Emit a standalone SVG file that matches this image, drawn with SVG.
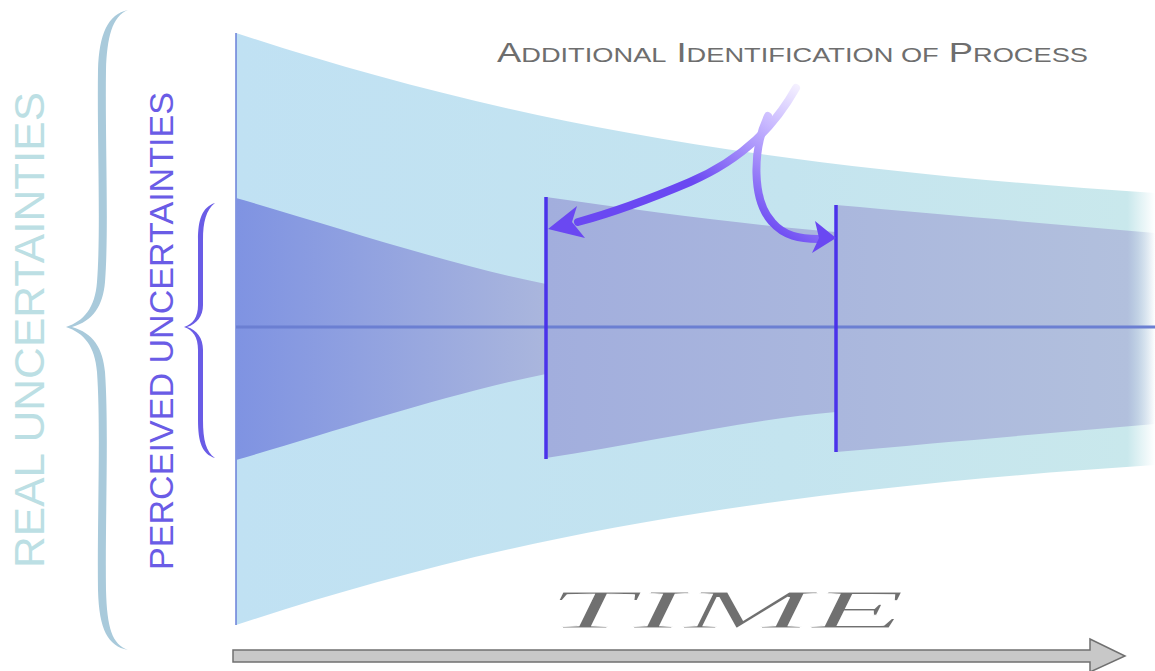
<svg xmlns="http://www.w3.org/2000/svg" width="1155" height="671" viewBox="0 0 1155 671">
<defs>
<linearGradient id="gFunnel" gradientUnits="userSpaceOnUse" x1="236" y1="0" x2="1155" y2="0">
<stop offset="0" stop-color="#c0e1f3"/>
<stop offset="0.6" stop-color="#c4e4ef"/>
<stop offset="0.97" stop-color="#c9e8ec"/>
<stop offset="1" stop-color="#c9e8ec" stop-opacity="0"/>
</linearGradient>
<linearGradient id="gPerc" gradientUnits="userSpaceOnUse" x1="236" y1="0" x2="1155" y2="0">
<stop offset="0" stop-color="#7f93e2"/>
<stop offset="0.337" stop-color="#aab6dd"/>
<stop offset="0.34" stop-color="#a2aedd"/>
<stop offset="0.97" stop-color="#b2c0dd"/>
<stop offset="1" stop-color="#b2c0dd" stop-opacity="0"/>
</linearGradient>
<linearGradient id="gArrow" gradientUnits="userSpaceOnUse" x1="798" y1="86" x2="720" y2="200">
<stop offset="0" stop-color="#f4f0ff"/>
<stop offset="0.35" stop-color="#c8b8ff"/>
<stop offset="1" stop-color="#6a48f2"/>
</linearGradient>
<style>
.vbar{stroke:#4a32ea;stroke-width:3.5;fill:none}
.cline{stroke:#6b7fd2;stroke-width:3;fill:none}
.arr{fill:none;stroke:url(#gArrow);stroke-width:8;stroke-linecap:round}
.head{fill:#6a48f2}
.lbl{font-family:"Liberation Sans",Arial,sans-serif}
</style>
</defs>
<rect width="1155" height="671" fill="#ffffff"/>

<g id="real-funnel">
<path d="M236,33 C470,110 720,165 1155,193 L1155,465 C720,493 470,548 236,625 Z" fill="url(#gFunnel)"/>
<line x1="236" y1="33" x2="236" y2="625" stroke="#6a7fd8" stroke-width="1.5"/>
</g>

<g id="perceived-1">
<path d="M236,198 C330,225 450,265 546,284 L546,374 C450,393 330,433 236,460 Z" fill="url(#gPerc)"/>
</g>
<g id="perceived-2">
<path d="M546,197 C650,212 750,225 836,232 L836,412 C750,419 650,442 546,458 Z" fill="url(#gPerc)"/>
</g>
<g id="perceived-3">
<path d="M836,205 C950,215 1050,224 1155,233 L1155,424 C1050,433 950,442 836,452 Z" fill="url(#gPerc)"/>
</g>

<g id="center-line">
<line class="cline" x1="236" y1="327" x2="1155" y2="327"/>
</g>

<g id="bar-1"><line class="vbar" x1="546" y1="197" x2="546" y2="459"/></g>
<g id="bar-2"><line class="vbar" x1="836" y1="205" x2="836" y2="452"/></g>

<g id="title">
<text class="lbl" x="497" y="62" fill="#6e6e6e" font-size="28" textLength="591" lengthAdjust="spacingAndGlyphs">A<tspan font-size="21">DDITIONAL</tspan> I<tspan font-size="21">DENTIFICATION OF</tspan> P<tspan font-size="21">ROCESS</tspan></text>
</g>

<g id="connectors">
<path class="arr" d="M796,88 C775,125 745,158 690,182 C650,199 615,212 578,222"/>
<path class="arr" d="M768,116 C752,150 752,200 772,222 C784,236 800,239 818,239"/>
<polygon class="head" points="548,229 577,206 572,222 585,238"/>
<polygon class="head" points="836,238 815,221 819,238 812,253"/>
</g>

<g id="real-label">
<text class="lbl" transform="translate(44,330) rotate(-90)" text-anchor="middle" font-size="42" font-weight="300" fill="#bcdfe4" textLength="476" lengthAdjust="spacingAndGlyphs">REAL UNCERTAINTIES</text>
<path d="M128,10 C108,14 99,34 98,70 C97,140 101,230 97,282 C95,308 84,321 66,327 C84,333 95,346 97,372 C101,430 97,520 98,590 C99,630 108,646 128,650 C112,644 107,628 106,590 C105,520 109,430 105,372 C103,348 93,333 72,327 C93,321 103,306 105,282 C109,230 105,140 106,70 C107,38 112,16 128,10 Z" fill="#a9cadb"/>
</g>

<g id="perceived-label">
<text class="lbl" transform="translate(173,331) rotate(-90)" text-anchor="middle" font-size="33" font-weight="300" fill="#6a5ce6" textLength="478" lengthAdjust="spacingAndGlyphs">PERCEIVED UNCERTAINTIES</text>
<path d="M215,203 C202,207 198,220 198,240 L198,305 C198,317 193,324 184,327 C193,330 198,337 198,350 L198,420 C198,442 202,454 215,458 C206,452 203,440 203,420 L203,350 C203,338 197,330 187,327 C197,324 203,316 203,305 L203,240 C203,222 206,210 215,203 Z" fill="#6a5ce6"/>
</g>

<g id="time-label">
<text x="548" y="628" font-family="'Liberation Serif',serif" font-style="italic" font-size="54" fill="#707070" stroke="#ffffff" stroke-width="1" textLength="357" lengthAdjust="spacingAndGlyphs">TIME</text>
</g>

<g id="time-arrow">
<path d="M233,650 L1090,650 L1090,639 L1125,656 L1090,672 L1090,662 L233,662 Z" fill="#c8c8c8" stroke="#707070" stroke-width="1.5" stroke-linejoin="miter"/>
</g>
</svg>
